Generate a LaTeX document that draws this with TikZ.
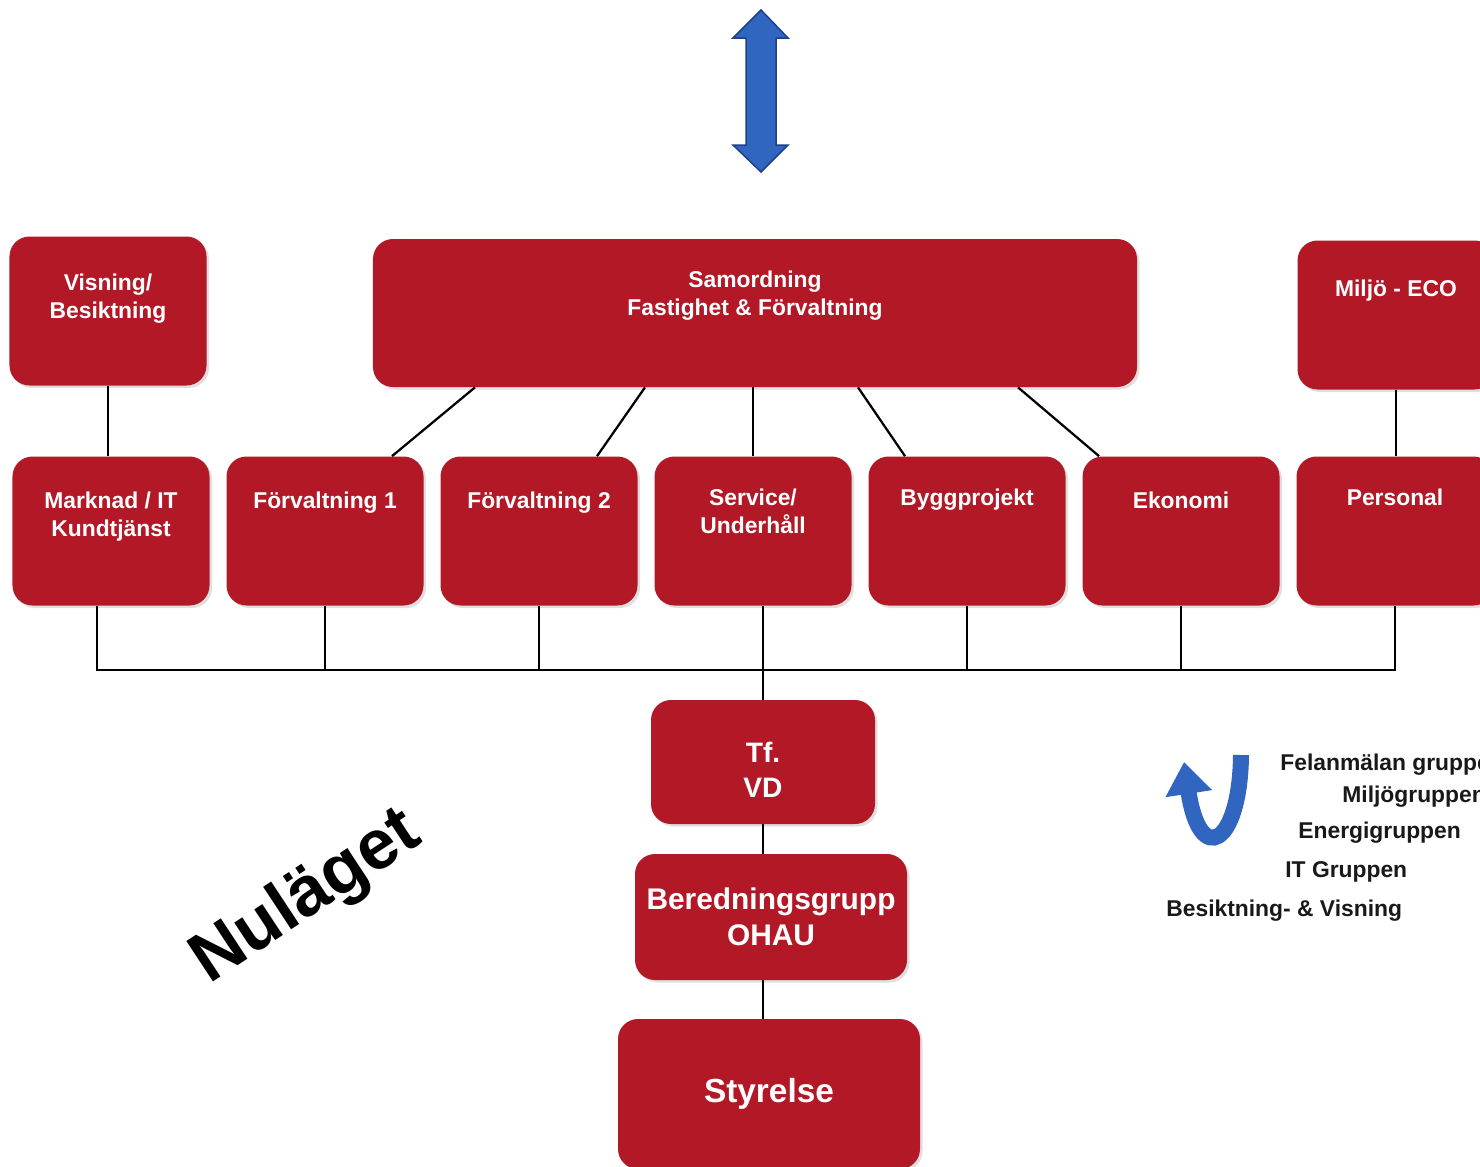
\documentclass[tikz,border=0pt]{standalone}
\usepackage{fontspec}
\setmainfont{Liberation Sans}
\usetikzlibrary{positioning,shadows,arrows.meta}
\definecolor{boxred}{RGB}{178,24,38}
\definecolor{arrowblue}{RGB}{48,102,192}
\definecolor{arrowedge}{RGB}{30,62,140}

\begin{document}
\begin{tikzpicture}[x=0.2mm, y=-0.2mm, node distance=42.8mm]
    \tikzstyle{unit} = [rectangle, rounded corners=4mm, fill=boxred, minimum width=39.4mm, minimum height=29.8mm, text=white, align=center, drop shadow={opacity=0.25, shadow xshift=0.5mm, shadow yshift=-0.5mm}]
    \tikzstyle{boxtext} = [text=white, font=\bfseries\fontsize{13}{16}\selectfont, align=center, anchor=north, inner sep=0pt, yshift=-7mm]
    \tikzstyle{link} = [draw=black, line width=0.45mm]
    \tikzstyle{group} = [font=\bfseries\fontsize{13}{16}\selectfont, text=black!90, inner sep=0pt, anchor=base west]
    \useasboundingbox (0,0) rectangle (1480,1166);
    \clip (0,0) rectangle (1480,1166);

    \fill [arrowblue, draw=arrowedge, line width=0.3mm] (761,10) -- (788,38) -- (776,38) -- (776,145) -- (788,145) -- (761,172) -- (733,145) -- (746,145) -- (746,38) -- (733,38) -- cycle;

    \node [unit, label={[boxtext, yshift=-0.4mm]north:Visning/\\Besiktning}] (vis) at (108,311) {};
    \node [unit, minimum width=152.8mm, minimum height=29.6mm, label={[boxtext, yshift=0.6mm]north:Samordning\\Fastighet \& Förvaltning}] (samo) at (755,313) {};
    \node [unit, label={[boxtext, yshift=-0.8mm]north:Miljö - ECO}] (milj) at (1396,315) {};

    \node [unit, label={[boxtext]north:Marknad / IT\\Kundtjänst}] (mark) at (111,531) {};
    \node [unit, right of=mark, label={[boxtext]north:Förvaltning 1}] (f1) {};
    \node [unit, right of=f1, label={[boxtext]north:Förvaltning 2}] (f2) {};
    \node [unit, right of=f2, label={[boxtext, yshift=0.6mm]north:Service/\\Underhåll}] (serv) {};
    \node [unit, right of=serv, label={[boxtext, yshift=0.6mm]north:Byggprojekt}] (bygg) {};
    \node [unit, right of=bygg, label={[boxtext]north:Ekonomi}] (eko) {};
    \node [unit, right of=eko, label={[boxtext, yshift=0.6mm]north:Personal}] (pers) {};

    \node [unit, minimum width=44.8mm, minimum height=24.8mm, label={[text=white, font=\bfseries\fontsize{16}{20}\selectfont, align=center, inner sep=0pt, anchor=center, yshift=-1.6mm]center:Tf.\\VD}] (tfvd) at (763,762) {};
    \node [unit, minimum width=54.4mm, minimum height=25.2mm, font=\bfseries\fontsize{17}{20.5}\selectfont] (bered) at (771,917) {Beredningsgrupp\\OHAU};
    \node [unit, minimum width=60.4mm, minimum height=30mm, font=\bfseries\fontsize{19}{23}\selectfont] (styr) at (769,1094) {Styrelse};

    \coordinate (bus) at (0,670);
    \draw [link] (vis.south) -- (vis.south |- mark.north);
    \draw [link] ([xshift=-56mm]samo.south) -- ([xshift=13.4mm]f1.north);
    \draw [link] ([xshift=-22mm]samo.south) -- ([xshift=11.6mm]f2.north);
    \draw [link] (serv.north |- samo.south) -- (serv.north);
    \draw [link] ([xshift=20.6mm]samo.south) -- ([xshift=-12.4mm]bygg.north);
    \draw [link] ([xshift=52.6mm]samo.south) -- ([xshift=-16.4mm]eko.north);
    \draw [link] (milj.south) -- (milj.south |- pers.north);
    \draw [link] ([xshift=-2.8mm]mark.south) |- (pers.south |- bus) -- (pers.south);
    \foreach \n in {f1,f2,bygg,eko}
        \draw [link] (\n.south) -- (\n.south |- bus);
    \draw [link] (tfvd.north |- serv.south) -- (tfvd.north);
    \draw [link] (tfvd.south) -- (tfvd.south |- bered.north);
    \draw [link] (tfvd.south |- bered.south) -- (tfvd.south |- styr.north);

    \node [font=\bfseries\fontsize{40}{48}\selectfont, rotate=33.4, inner sep=0pt] (nulaget) at (307,898) {Nuläget};

    \draw [arrowblue, line width=3.2mm, -{Triangle[length=6.4mm, width=9mm]}] (1241,755) .. controls (1240,845) and (1200,868) .. (1184,762);
    \node [group] (fel) at (1280,770) {Felanmälan gruppen};
    \node [group] (miljg) at (1342,802) {Miljögruppen};
    \node [group] (energi) at (1298,838) {Energigruppen};
    \node [group] (itg) at (1285,877) {IT Gruppen};
    \node [group] (besvis) at (1166,916) {Besiktning- \& Visning};
\end{tikzpicture}
\end{document}
